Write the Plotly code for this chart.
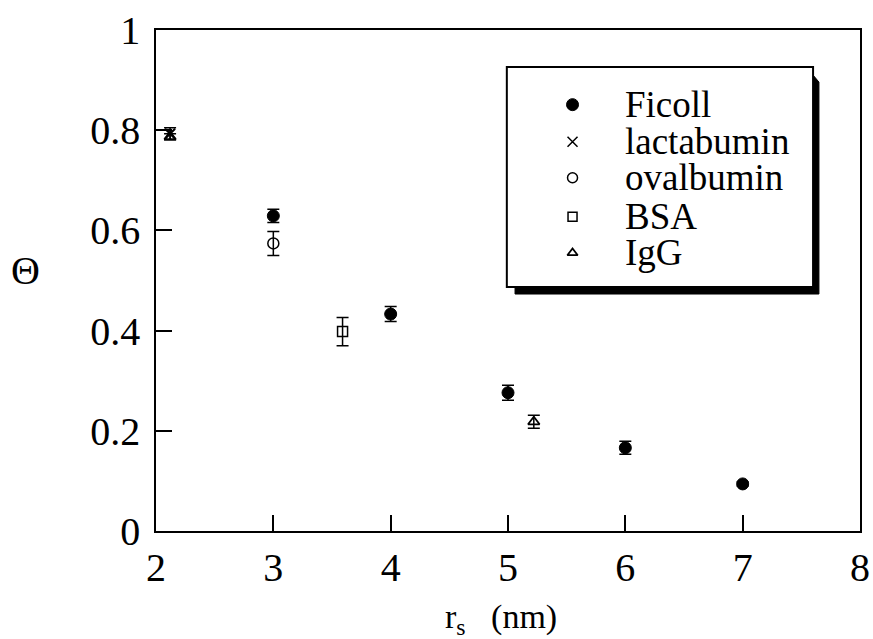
import plotly.graph_objects as go

# ---------------- data ----------------
ficoll_x = [3, 4, 5, 6, 7]
ficoll_y = [0.629, 0.433, 0.276, 0.166, 0.094]
ficoll_err = [0.013, 0.015, 0.015, 0.013, 0.004]

lact_x = [2.12]
lact_y = [0.793]
lact_err = [0.012]

oval_x = [3.0]
oval_y = [0.574]
oval_err = [0.024]

bsa_x = [3.59]
bsa_y = [0.398]
bsa_err = [0.028]

igg_x = [2.12, 5.22]
igg_y = [0.787, 0.218]
igg_err = [0.006, 0.013]

legend_labels = ["Ficoll", "lactabumin", "ovalbumin", "BSA", "IgG"]

x_ticks = [2, 3, 4, 5, 6, 7, 8]
y_ticks = [0, 0.2, 0.4, 0.6, 0.8, 1]
y_ticklabels = ["0", "0.2", "0.4", "0.6", "0.8", "1"]

FONT = "Liberation Serif, Times New Roman, serif"

styles = [
    dict(symbol="circle", color="black", size=12, line=dict(color="black", width=1)),
    dict(symbol="x-thin-open", color="black", size=10, line=dict(color="black", width=2)),
    dict(symbol="circle-open", color="black", size=11, line=dict(color="black", width=1.5)),
    dict(symbol="square-open", color="black", size=10, line=dict(color="black", width=1.5)),
    dict(symbol="triangle-up-open", color="black", size=10, line=dict(color="black", width=1.8)),
]
series = [
    (ficoll_x, ficoll_y, ficoll_err),
    (lact_x, lact_y, lact_err),
    (oval_x, oval_y, oval_err),
    (bsa_x, bsa_y, bsa_err),
    (igg_x, igg_y, igg_err),
]

fig = go.Figure()

for (xs, ys, es), st, name in zip(series, styles, legend_labels):
    fig.add_trace(go.Scatter(
        x=xs, y=ys, mode="markers", name=name, showlegend=False,
        marker=st,
        error_y=dict(type="data", array=es, visible=True, color="black",
                     thickness=1.5, width=6),
    ))

# ---------------- manual legend (box with drop shadow) ----------------
box_x0, box_x1, box_y0, box_y1 = 4.99, 7.60, 0.487, 0.926
fig.add_shape(type="path",
              path=f"M {box_x0+0.07} {box_y0-0.014} L {box_x1+0.05} {box_y0-0.014} "
                   f"L {box_x1+0.05} {box_y1-0.03} L {box_x1} {box_y1-0.016} "
                   f"L {box_x1} {box_y0} L {box_x0+0.07} {box_y0} Z",
              fillcolor="black", line=dict(color="black", width=1), layer="below")
fig.add_shape(type="rect", x0=box_x0, x1=box_x1, y0=box_y0, y1=box_y1,
              fillcolor="white", line=dict(color="black", width=2), layer="below")

leg_mx = 5.55
leg_tx = 5.98
leg_rows = [0.851, 0.777, 0.705, 0.627, 0.555]
leg_sizes = [12, 10, 10, 9, 9]
for st, name, yy, sz in zip(styles, legend_labels, leg_rows, leg_sizes):
    s = dict(st)
    s["size"] = sz
    if name == "lactabumin":
        s["line"] = dict(color="black", width=1.5)
    fig.add_trace(go.Scatter(x=[leg_mx], y=[yy], mode="markers", marker=s,
                             showlegend=False, hoverinfo="skip", cliponaxis=False))
    fig.add_annotation(x=leg_tx, y=yy, text=name, showarrow=False,
                       xanchor="left", yanchor="middle",
                       font=dict(family=FONT, size=37, color="black"))

# Axis titles
fig.add_annotation(xref="paper", yref="paper", x=-0.186, y=0.52, text="Θ",
                   showarrow=False, xanchor="center", yanchor="middle",
                   font=dict(family=FONT, size=40, color="black"))
fig.add_annotation(xref="paper", yref="paper", x=0.49, y=-0.175,
                   text="r<sub>s</sub>   (nm)", showarrow=False,
                   xanchor="center", yanchor="middle",
                   font=dict(family=FONT, size=34, color="black"))

fig.update_layout(
    width=873, height=639,
    margin=dict(l=156, r=13, t=30, b=108, autoexpand=False),
    paper_bgcolor="white", plot_bgcolor="white",
    font=dict(family=FONT, color="black"),
    showlegend=False,
    xaxis=dict(range=[2, 8], tickvals=x_ticks, ticktext=[str(v) for v in x_ticks],
               showgrid=False, zeroline=False, showline=True, mirror=True,
               linecolor="black", linewidth=1.5, ticks="inside", ticklen=16,
               tickwidth=1.5, tickcolor="black", automargin=False,
               ticklabeloverflow="allow",
               tickfont=dict(family=FONT, size=40, color="black")),
    yaxis=dict(range=[0, 1], tickvals=y_ticks, ticktext=y_ticklabels,
               showgrid=False, zeroline=False, showline=True, mirror=True,
               linecolor="black", linewidth=1.5, ticks="inside", ticklen=16,
               tickwidth=1.5, tickcolor="black", automargin=False,
               ticklabelstandoff=6,
               tickfont=dict(family=FONT, size=40, color="black")),
)

fig.write_html("out.html")
